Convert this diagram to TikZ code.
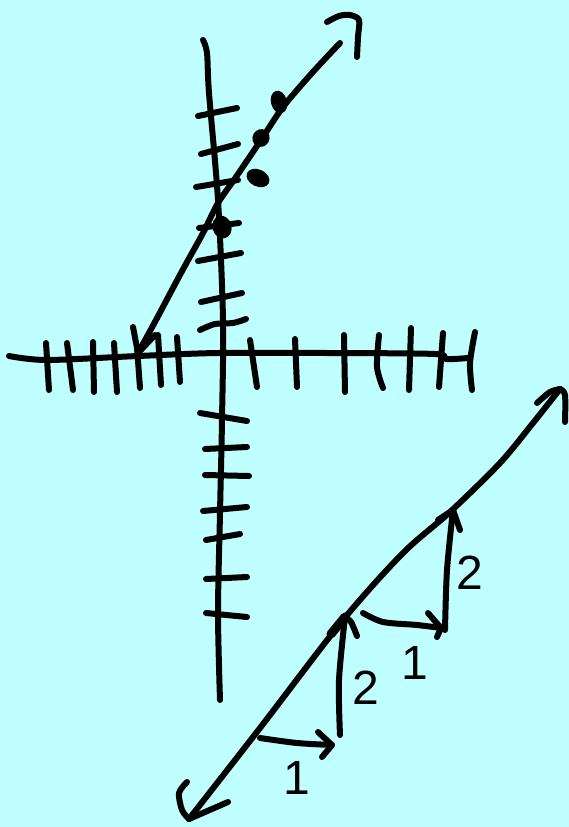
\documentclass[tikz,border=0pt]{standalone}
\usepackage{fontspec}
\setmainfont{Liberation Sans}
\definecolor{bg}{RGB}{191,255,255}
\begin{document}
\begin{tikzpicture}[x=1pt,y=-1pt,
  ink/.style={line width=6pt, line cap=round, line join=round},
  lbl/.style={font=\fontsize{48}{48}\selectfont, inner sep=0pt}]
\fill[bg] (0,0) rectangle (569,827);
\useasboundingbox (0,0) rectangle (569,827);

% vertical axis
\draw[ink] plot[smooth] coordinates {(203,40) (207,53) (209,93) (218,200) (223,320) (222,420) (220,513) (218,613) (220,700)};
% horizontal axis
\draw[ink] plot[smooth] coordinates {(9,356) (47,360) (138,356) (218,353) (327,353) (435,354) (446,359) (468,358)};

% ticks on horizontal axis
\foreach \a/\b/\c/\d in {46/343/49/390, 67/343/73/390, 93/342/94/392, 114/343/117/392, 137/347/140/388, 158/335/161/385, 177/337/180/382,
  250/340/257/387, 295/339/297/387, 344/335/345/392, 411/328/409/390, 443/333/439/387}
  \draw[ink] (\a,\b) -- (\c,\d);
\draw[ink] plot[smooth] coordinates {(379,335) (377,367) (383,388)};
\draw[ink] plot[smooth] coordinates {(475,332) (470,363) (472,390)};

% ticks on vertical axis (upper)
\foreach \a/\b/\c/\d in {198/116/237/108, 201/154/238/144, 196/187/238/180, 199/228/239/223, 198/261/241/253, 201/302/242/293}
  \draw[ink] (\a,\b) -- (\c,\d);
\draw[ink] plot[smooth] coordinates {(200,330) (215,324) (233,323) (246,319)};
% ticks on vertical axis (lower)
\foreach \a/\b/\c/\d in {200/413/247/421, 205/449/247/447, 205/475/249/476, 203/511/247/507, 206/540/240/534, 206/579/247/577, 206/613/247/617}
  \draw[ink] (\a,\b) -- (\c,\d);

% upper line with arrows
\coordinate (la) at (138,353);
\coordinate (lb) at (340,43);
\draw[ink] plot[smooth] coordinates {(la) (156,320) (181,273) (203,233) (218,203) (236,177) (261,140) (283,107) (312,73) (lb)};
\draw[ink] (133,327) -- (la) -- (155,335);
\draw[ink] plot[smooth] coordinates {(327,22) (339,16) (350,15) (359,20) (358,37) (357,57)};

% data dots
\fill[rotate around={15:(279,102)}] (279,102) ellipse (8pt and 11.5pt);
\fill[rotate around={-30:(261,138)}] (261,138) ellipse (8.5pt and 9pt);
\fill[rotate around={-25:(258,178)}] (258,178) ellipse (12pt and 8.5pt);
\fill[rotate around={15:(222,227)}] (222,227) ellipse (9.5pt and 11.5pt);

% lower-right line
\coordinate (ra) at (189,819);
\coordinate (rb) at (560,389);
\draw[ink] plot[smooth] coordinates {(ra) (260,728) (343,620) (403,553) (450,512) (500,463) (533,423) (rb)};
\draw[ink] plot[smooth] coordinates {(537,403) (550,392) (rb)};
\draw[ink] plot[smooth] coordinates {(rb) (565,395) (565,422)};
\draw[ink] plot[smooth] coordinates {(187,782) (179,793) (182,810) (ra)};
\draw[ink] (ra) -- (228,802);

% lower step
\coordinate (p1) at (260,738);
\coordinate (p2) at (332,745);
\coordinate (p3) at (345,617);
\draw[ink] plot[smooth] coordinates {(p1) (297,743) (p2)};
\draw[ink] (318,732) -- (p2) -- (322,757);
\draw[ink] plot[smooth] coordinates {(340,735) (339,680) (p3)};
\draw[line width=9pt, line cap=round] (331,634) -- (p3);
\draw[ink] plot[smooth] coordinates {(p3) (351,622) (357,636)};

% upper step
\coordinate (q1) at (363,613);
\coordinate (q2) at (441,628);
\coordinate (q3) at (453,510);
\draw[ink] plot[smooth] coordinates {(q1) (383,622) (417,625) (q2)};
\draw[ink] (428,613) -- (q2) -- (437,637);
\draw[ink] plot[smooth] coordinates {(445,630) (447,570) (q3)};
\draw[ink] (438,520) -- (q3) -- (460,530);

% labels
\node[lbl] (l1) at (297,778) {1};
\node[lbl] (l2) at (366,688) {2};
\node[lbl] (l3) at (415,663) {1};
\node[lbl] (l4) at (470,573) {2};
\end{tikzpicture}
\end{document}
